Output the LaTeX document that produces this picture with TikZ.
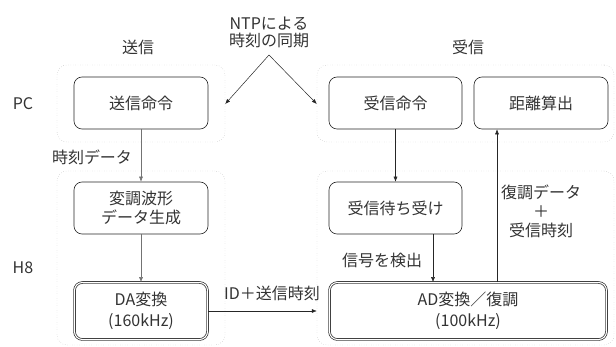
\documentclass[tikz,border=0pt]{standalone}
\usepackage{fontspec}
\setmainfont{Noto Sans CJK JP}
\usetikzlibrary{arrows.meta,calc}
\begin{document}
\begin{tikzpicture}[x=1pt,y=-1pt,
  font=\fontsize{16}{19}\selectfont,
  every node/.style={text=black!80},
  grp/.style={draw=black!35,dotted,rounded corners=10pt,inner sep=0pt},
  box/.style={draw=black!85,line width=0.6pt,rounded corners=8pt,inner sep=0pt,align=center},
  dbox/.style={draw=black!85,double=white,double distance=1.1pt,line width=0.7pt,rounded corners=8pt,inner sep=0pt,align=center,font=\fontsize{16}{21}\selectfont},
  lbl/.style={inner sep=0pt,align=center},
  arr/.style={-{Latex[length=5pt,width=4pt]},line width=0.5pt,draw=black!85},
  garr/.style={-{Latex[length=5pt,width=4pt]},line width=0.5pt,draw=black!55}]
\useasboundingbox (0,0) rectangle (616,347);
% groups
\node[grp,minimum width=168pt,minimum height=77pt] (lPC) at (141,103.5) {};
\node[grp,minimum width=297pt,minimum height=77pt] (rPC) at (465.5,103.5) {};
\node[grp,minimum width=168pt,minimum height=174pt] (lH8) at (141,258) {};
\node[grp,minimum width=297pt,minimum height=174pt] (rH8) at (465.5,258) {};
% boxes
\node[box,minimum width=134pt,minimum height=52pt] (send) at (141,103) {送信命令};
\node[box,minimum width=133pt,minimum height=52pt] (recv) at (395.5,103) {受信命令};
\node[box,minimum width=134pt,minimum height=52pt] (dist) at (541,103) {距離算出};
\node[box,minimum width=134pt,minimum height=52pt] (mod) at (141,208) {変調波形\\データ生成};
\node[box,minimum width=133pt,minimum height=52pt] (wait) at (395.5,208) {受信待ち受け};
\node[dbox,minimum width=133pt,minimum height=57pt] (da) at (141,311) {DA変換\\(160kHz)};
\node[dbox,minimum width=277pt,minimum height=57pt] (ad) at (468,311) {AD変換／復調\\(100kHz)};
% labels
\node[lbl] (tsend) at (138,47) {送信};
\node[lbl] (trecv) at (468,47) {受信};
\node[lbl,font=\fontsize{16}{17}\selectfont] (ntp) at (269,32) {NTPによる\\時刻の同期};
\node[lbl] (pc) at (23,104) {PC};
\node[lbl] (h8) at (23,268) {H8};
\node[lbl] (tdata) at (92,157) {時刻データ};
\node[lbl] (idl) at (272,293) {ID＋送信時刻};
\node[lbl] (det) at (382,260) {信号を検出};
\node[lbl,font=\fontsize{16}{19}\selectfont] (demod) at (541,211) {復調データ\\＋\\受信時刻};
\coordinate (apex) at (269,55);
% connectors
\draw[arr] (apex) -- (lPC.east |- 0,104);
\draw[arr] (apex) -- (rPC.west |- 0,104);
\draw[garr] (send.south) -- (mod.north);
\draw[garr] (mod.south) -- (da.north);
\draw[arr] (da.east) -- (da.east -| rH8.west);
\draw[arr] (recv.south) -- (wait.north);
\draw[arr] ([xshift=37.5pt]wait.south) -- ([xshift=37.5pt]wait.south |- ad.north);
\draw[arr] (ad.north -| 497,0) -- (dist.south -| 497,0);
\end{tikzpicture}
\end{document}
